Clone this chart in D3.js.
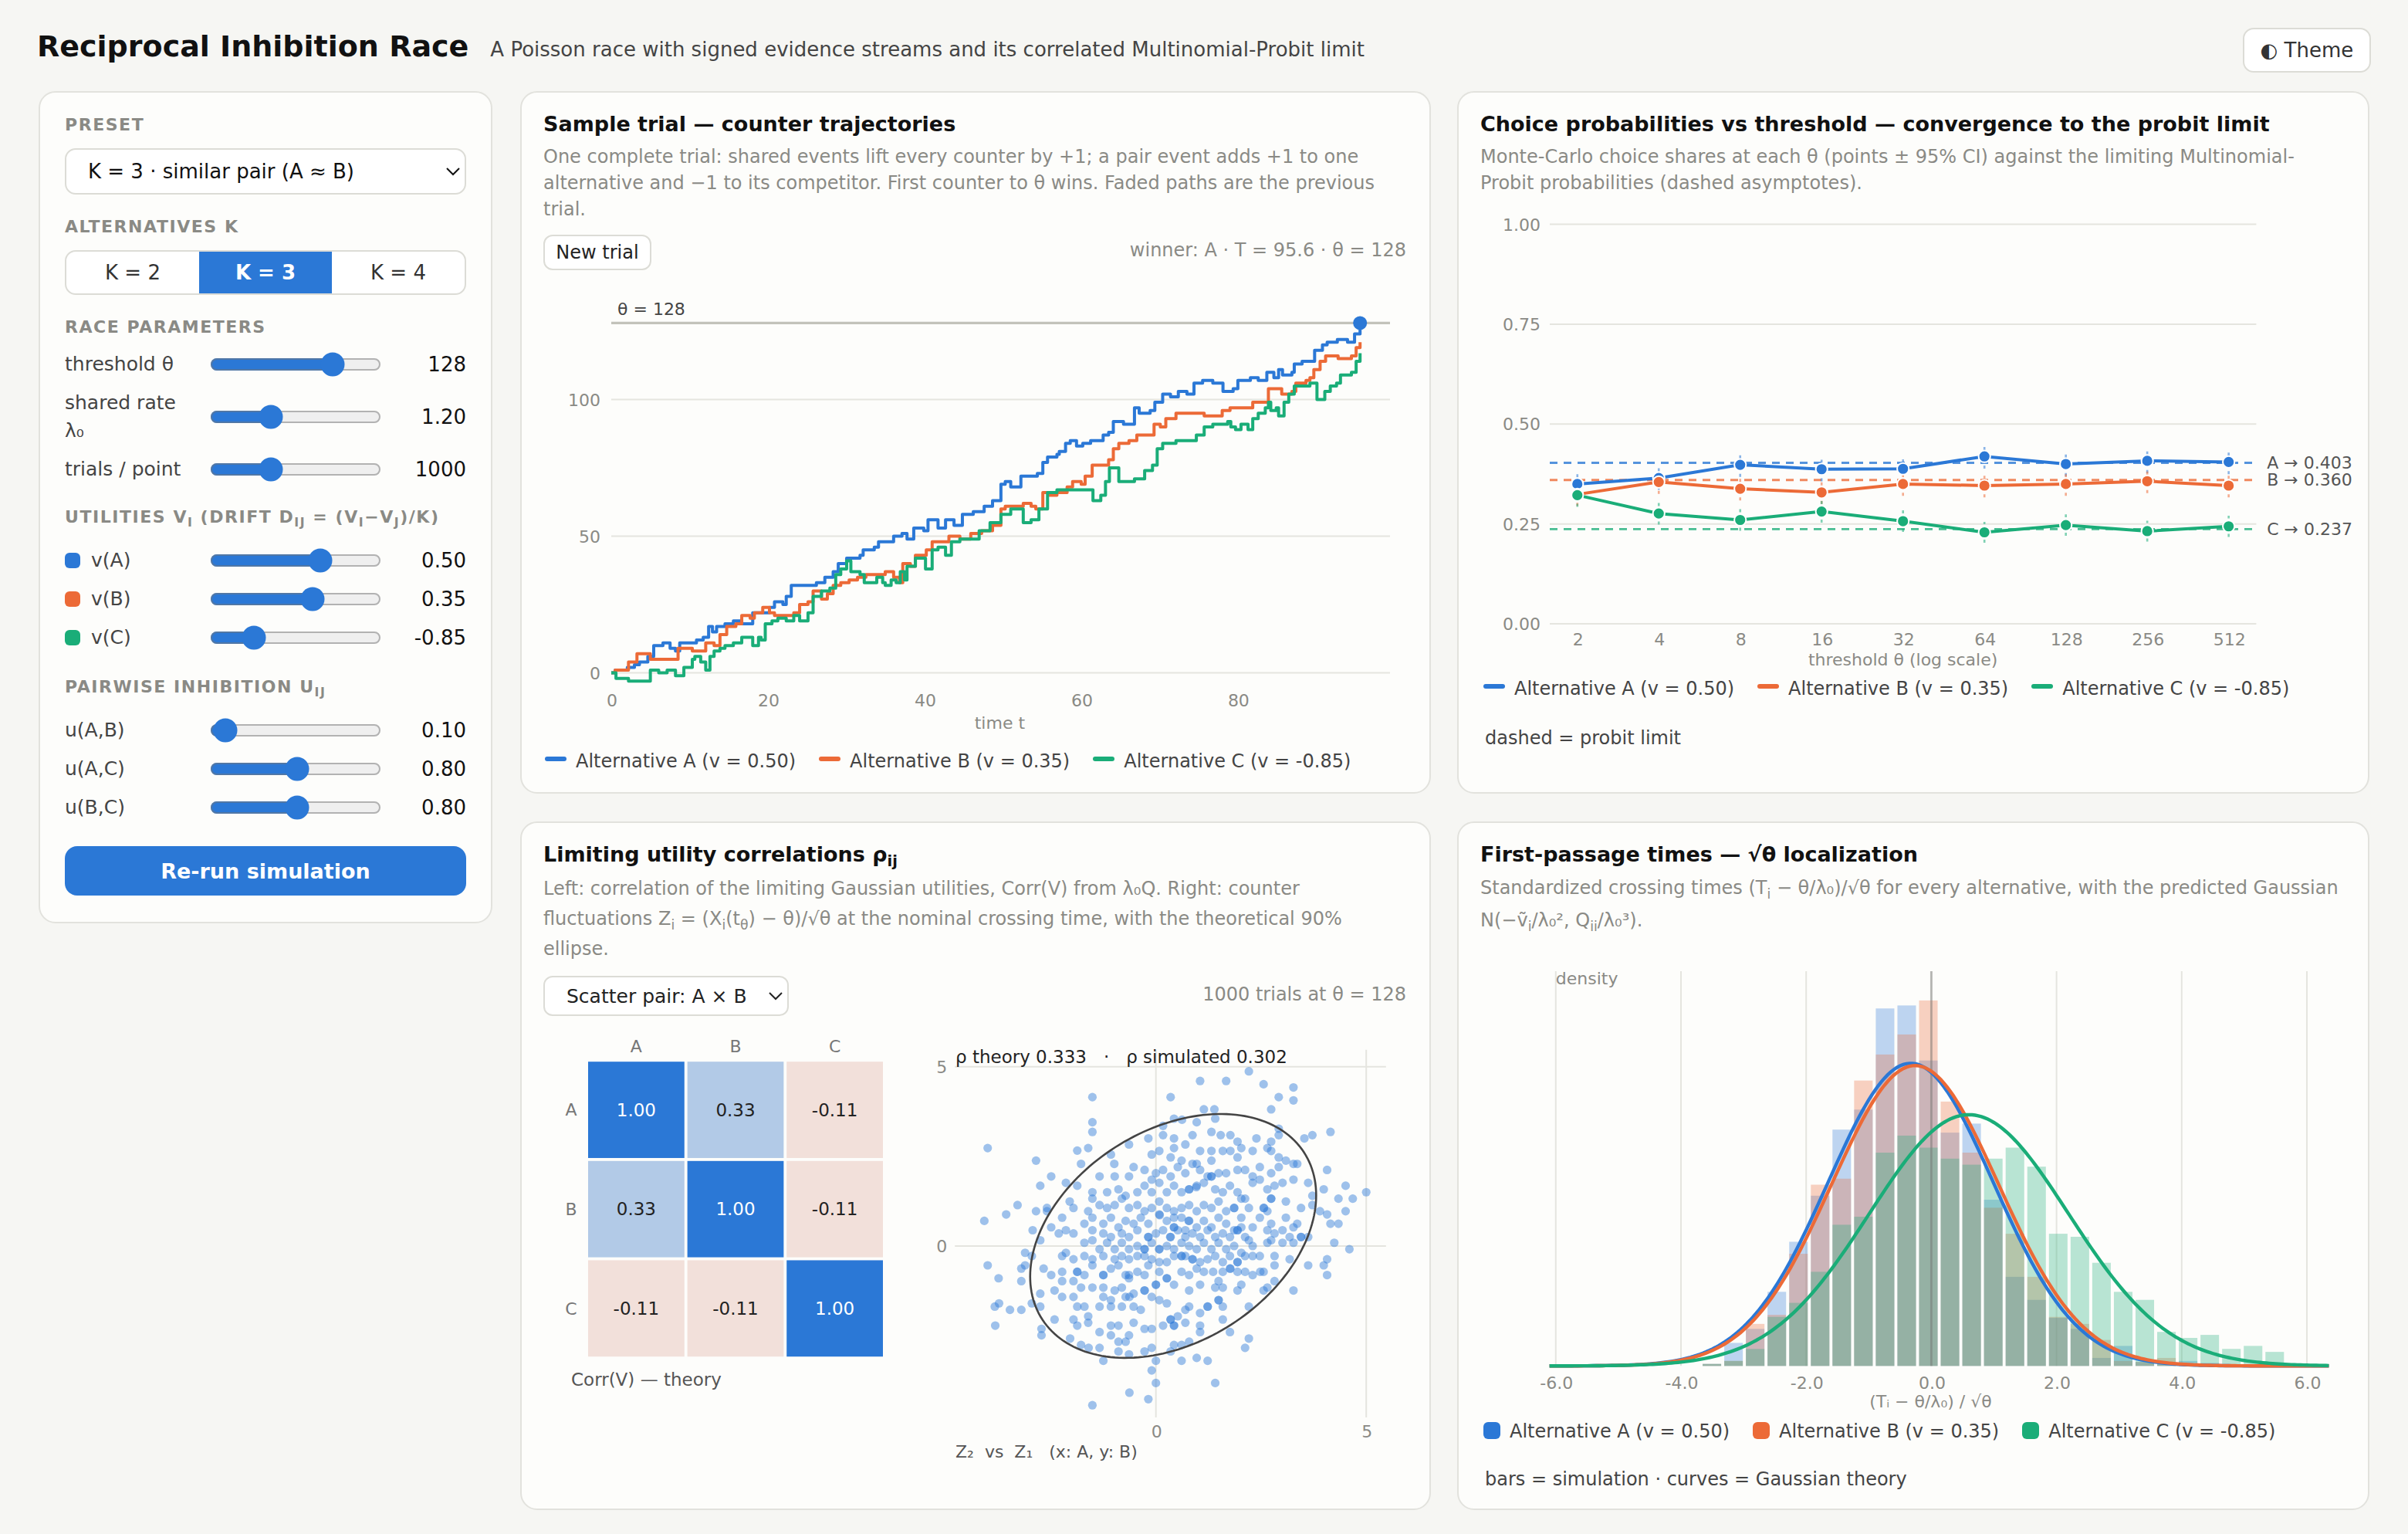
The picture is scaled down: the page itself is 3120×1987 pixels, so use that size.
<!DOCTYPE html>
<html lang="en">
<head>
<meta charset="utf-8">
<title>Reciprocal Inhibition Race</title>
<script src="https://cdn.jsdelivr.net/npm/d3@7"></script>
<style>
html, body { margin: 0; padding: 0; background: #f6f6f3; }
body { font-family: "DejaVu Sans", sans-serif; color: #222; }
#page { position: relative; width: 1560px; height: 993px; overflow: hidden; }
.hdr { position: absolute; left: 24px; top: 16px; white-space: nowrap; line-height: 28px; }
.hdr h1 { display: inline; font-size: 19px; margin: 0; color: #111; }
.hdr .sub { font-size: 13px; color: #444; margin-left: 14px; }
.theme { position: absolute; left: 1453px; top: 18px; width: 83px; height: 29px; box-sizing: border-box;
  border: 1px solid #dcdcd6; border-radius: 7px; background: #fff; font: 13px "DejaVu Sans"; color: #333; padding: 0; }
.panel { position: absolute; box-sizing: border-box; background: #fdfdfb; border: 1px solid #e2e2dd; border-radius: 11px; }
.ptitle { position: absolute; left: 14px; top: 11.5px; font-size: 13.5px; font-weight: bold; color: #111; line-height: 18px; white-space: nowrap; }
.pdesc { position: absolute; left: 14px; right: 14px; top: 33px; font-size: 12px; color: #8a8a85; line-height: 17px; }
sub { font-size: 72%; line-height: 0; }
svg.chart { position: absolute; left: 0; top: 0; overflow: visible; font-family: "DejaVu Sans", sans-serif; }
.legend { position: absolute; left: 15px; display: flex; gap: 15px; font-size: 12px; color: #444; line-height: 16px; white-space: nowrap; }
.legend .sw { display: inline-block; width: 14px; height: 3px; border-radius: 2px; margin-right: 6px; position: relative; top: -4px; }
.legend .sq { width: 11px; height: 11px; border-radius: 3px; top: 0; vertical-align: -1px; }
.note { position: absolute; left: 17px; font-size: 12px; color: #444; line-height: 16px; white-space: nowrap; }
.meta { position: absolute; right: 15px; font-size: 12px; color: #8a8a85; line-height: 16px; white-space: nowrap; }
.btn { position: absolute; box-sizing: border-box; border: 1px solid #dcdcd6; border-radius: 6px; background: #fff;
  font: 12px "DejaVu Sans"; color: #222; padding: 0; }
select.pick { position: absolute; box-sizing: border-box; border: 1px solid #dcdcd6; border-radius: 6px; background: #fff;
  font: 12.5px "DejaVu Sans"; color: #222; padding: 0 0 0 10px; }

#controls { padding: 14px 16px 0 16px; }
.sec { font-size: 11px; font-weight: bold; letter-spacing: .07em; text-transform: uppercase; color: #8a8a85; line-height: 14px; margin: 14px 0 8px; }
.sec:first-child { margin-top: 0; }
.csel { display: block; width: 100%; height: 30px; box-sizing: border-box; border: 1px solid #dcdcd6; border-radius: 7px;
  background: #fff; font: 13px "DejaVu Sans"; color: #111; padding: 0 6px 0 10px; }
.seg { display: flex; border: 1px solid #dcdcd6; border-radius: 7px; overflow: hidden; height: 29px; box-sizing: border-box; background: #fff; }
.seg button { flex: 1; border: 0; background: transparent; font: 13px "DejaVu Sans"; color: #333; padding: 0; }
.seg button.on { background: #2b78d6; color: #fff; font-weight: bold; }
.row { display: flex; align-items: center; line-height: 18px; font-size: 12.5px; color: #444; margin-bottom: 7px; }
.row .lbl { width: 83px; margin-right: 11px; flex: none; }
.row input[type=range] { width: 111px; margin: 0; accent-color: #2b78d6; height: 16px; flex: none; }
.row .val { flex: 1; text-align: right; color: #111; font-size: 13px; }
.row .dot { display: inline-block; width: 10px; height: 10px; border-radius: 3px; margin-right: 7px; vertical-align: -1px; }
.run { display: block; width: 100%; height: 32px; border: 0; border-radius: 8px; background: #2b78d6; color: #fff;
  font: bold 13.5px "DejaVu Sans"; margin-top: 16px; }
</style>
</head>
<body>
<div id="page">
  <div class="hdr"><h1>Reciprocal Inhibition Race</h1><span class="sub">A Poisson race with signed evidence streams and its correlated Multinomial-Probit limit</span></div>
  <button class="theme">◐ Theme</button>

  <div class="panel" id="controls" style="left:25px;top:59px;width:294px;height:539px;">
    <div class="sec">Preset</div>
    <select class="csel"><option>K = 3 · similar pair (A ≈ B)</option></select>
    <div class="sec">Alternatives K</div>
    <div class="seg" id="kseg"></div>
    <div class="sec">Race parameters</div>
    <div id="raceRows"></div>
    <div class="sec" style="margin-top:15px;margin-bottom:12px;">Utilities v<sub>i</sub> (drift d<sub>ij</sub> = (v<sub>i</sub>−v<sub>j</sub>)/K)</div>
    <div id="utilRows"></div>
    <div class="sec" style="margin-top:16px;margin-bottom:12px;">Pairwise inhibition u<sub>ij</sub></div>
    <div id="inhRows"></div>
    <button class="run">Re-run simulation</button>
  </div>

  <div class="panel" id="p2" style="left:337px;top:59px;width:590px;height:455px;">
    <div class="ptitle">Sample trial — counter trajectories</div>
    <div class="pdesc">One complete trial: shared events lift every counter by +1; a pair event adds +1 to one alternative and −1 to its competitor. First counter to θ wins. Faded paths are the previous trial.</div>
    <button class="btn" style="left:14px;top:92px;width:70px;height:23px;">New trial</button>
    <div class="meta" id="winner" style="top:94px;"></div>
    <svg class="chart" id="trialSvg" width="590" height="455"></svg>
    <div class="legend" id="trialLegend" style="top:425px;"></div>
  </div>

  <div class="panel" id="p3" style="left:944px;top:59px;width:591px;height:455px;">
    <div class="ptitle">Choice probabilities vs threshold — convergence to the probit limit</div>
    <div class="pdesc">Monte-Carlo choice shares at each θ (points ± 95% CI) against the limiting Multinomial-Probit probabilities (dashed asymptotes).</div>
    <svg class="chart" id="choiceSvg" width="591" height="455"></svg>
    <div class="legend" id="choiceLegend" style="top:378px;left:16px;"></div>
    <div class="note" style="top:410px;">dashed = probit limit</div>
  </div>

  <div class="panel" id="p4" style="left:337px;top:532px;width:590px;height:446px;">
    <div class="ptitle">Limiting utility correlations ρ<sub>ij</sub></div>
    <div class="pdesc" style="line-height:19.5px;top:33px;">Left: correlation of the limiting Gaussian utilities, Corr(V) from λ₀Q. Right: counter fluctuations Z<sub>i</sub> = (X<sub>i</sub>(t<sub>θ</sub>) − θ)/√θ at the nominal crossing time, with the theoretical 90% ellipse.</div>
    <select class="pick" style="left:14px;top:99px;width:159px;height:26px;"><option>Scatter pair: A × B</option></select>
    <div class="meta" id="corrMeta" style="top:103px;"></div>
    <svg class="chart" id="corrSvg" width="590" height="446"></svg>
  </div>

  <div class="panel" id="p5" style="left:944px;top:532px;width:591px;height:446px;">
    <div class="ptitle">First-passage times — √θ localization</div>
    <div class="pdesc" style="line-height:21px;top:31.5px;">Standardized crossing times (T<sub>i</sub> − θ/λ₀)/√θ for every alternative, with the predicted Gaussian N(−ṽ<sub>i</sub>/λ₀², Q<sub>ii</sub>/λ₀³).</div>
    <svg class="chart" id="fptSvg" width="591" height="446"></svg>
    <div class="legend" id="fptLegend" style="top:386px;left:16px;"></div>
    <div class="note" style="top:417px;">bars = simulation · curves = Gaussian theory</div>
  </div>
</div>

<script>
// ---- data ----
const alternatives = ["A", "B", "C"];
const altColors = ["#2b78d6", "#ec6a37", "#1aad78"];
const utilities = [0.50, 0.35, -0.85];
const pairLabels = ["u(A,B)", "u(A,C)", "u(B,C)"];
const pairInhibition = [0.10, 0.80, 0.80];
const kOptions = [2, 3, 4];
const kActive = 3;
const theta = 128;
const lambda0 = 1.20;
const trialsPerPoint = 1000;
const winnerTime = 95.6;

// sample trial: [time, counter]
const trialA = [[0,0],[0.5,1],[2.05,2],[2.96,3],[3.6,4],[4.67,6],[5.42,10],[6.6,11],[7.51,9],[8.2,8],[8.74,11],[10.88,12],[11.74,13],[12.43,17],[12.92,15],[13.45,17],[14.52,18],[15.59,19],[16.66,18],[18.06,22],[20.2,24],[20.84,26],[21.91,25],[22.34,28],[22.98,32],[26.19,33],[27.27,35],[28.33,37],[28.98,40],[30.05,42],[31.76,43],[32.16,45],[33.58,46],[34.12,48],[36.05,50],[37.12,51],[37.76,49],[38.62,53],[39.9,52],[40.44,56],[41.72,53],[42.68,56],[43.76,54],[44.83,58],[46.22,59],[47.61,61],[48.68,63],[49.75,69],[50.3,70],[51,68],[52.3,72],[54.4,73],[55.1,77],[55.7,79],[56.9,80],[57.2,81],[58,84],[58.6,85],[59.4,83],[60.2,84],[61.2,85],[62.8,87],[63.5,88],[64.1,92],[65.4,91],[66.8,97],[67.4,95],[68.8,96],[69.4,99],[70.4,102],[71.4,101],[72.4,103],[73.5,102],[74.4,106],[75.5,107],[76.8,106],[78.1,103],[79.4,104],[80,107],[81.6,108],[82.6,107],[83.7,110],[84.6,108],[85.2,111],[85.7,109],[86.9,110],[87.2,113],[88.2,114],[89.8,118],[90.8,120],[91.4,121],[92.7,122],[94,121],[94.9,124],[95.6,128]];
const trialB = [[0,0],[0.5,1],[2.2,4],[3.28,7],[4.99,5],[8.53,9],[10.35,8],[12.06,11],[13.13,10],[13.88,14],[14.74,17],[15.91,18],[16.66,21],[17.73,20],[18.27,22],[19.34,24],[20.2,22],[20.84,21],[23.3,22],[24.05,25],[25.12,26],[25.77,30],[26.84,27],[27.59,29],[28.33,32],[29.3,33],[30.37,34],[31.44,35],[32.51,36],[34.98,37],[36.05,35],[36.8,33],[37.22,40],[38.19,39],[38.83,43],[40.22,45],[40.97,48],[43.11,50],[44.51,49],[45.9,51],[47.29,52],[48.68,54],[49.75,60],[50.3,61],[52.6,62],[53.6,61],[54.2,60],[55.1,66],[55.9,65],[56.9,66],[58.2,68],[58.9,70],[60,69],[60.5,72],[61.4,76],[63.5,78],[64.1,82],[64.8,84],[66.1,85],[67.1,87],[69.3,91],[70.1,90],[70.8,93],[72.1,95],[75.7,94],[78,96],[79,97],[81.9,99],[83.9,104],[85.6,102],[86.9,103],[87.4,106],[88.7,107],[89.2,108],[89.7,111],[90.5,114],[91.2,116],[92.8,115],[94.5,116],[95.1,119],[95.6,121]];
const trialC = [[0,0],[0.6,-2],[2.2,-3],[4.99,1],[6.06,0],[7.13,1],[8.2,-1],[9.27,2],[10.35,5],[10.67,6],[11.42,4],[12.06,1],[12.6,6],[13.13,8],[13.88,9],[14.52,10],[15.59,11],[16.66,13],[18.06,10],[18.8,13],[19.13,12],[19.66,18],[20.52,19],[21.27,20],[22.34,19],[23.3,21],[24.05,19],[25.12,22],[25.77,28],[26.84,30],[27.91,31],[28.66,36],[29.3,38],[30.05,41],[30.59,37],[31.76,36],[32.3,33],[33.9,35],[34.65,33],[34.98,32],[35.73,34],[36.37,33],[36.9,37],[37.44,34],[37.76,39],[38.83,42],[40.12,38],[40.97,45],[41.72,46],[42.68,43],[43.43,48],[44.51,49],[46.97,52],[48.36,55],[49.75,58],[51,60],[52.6,55],[53.6,56],[54.6,60],[55.7,66],[56.9,67],[61.5,63],[62.5,65],[63.1,70],[63.6,75],[64.8,70],[66.8,71],[68.1,74],[69.1,76],[69.7,82],[70.4,84],[72.1,85],[74.7,87],[75.7,90],[76.8,91],[78.7,92],[79.1,90],[79.7,89],[80.4,91],[81.3,89],[81.9,93],[82.6,95],[83.5,97],[83.9,99],[84.2,96],[84.9,97],[85.2,94],[85.9,99],[86.5,102],[87.2,105],[89.2,106],[90.1,100],[91.1,103],[91.8,105],[92.6,106],[93.1,109],[94.5,110],[95.1,114],[95.6,117]];

// choice shares vs threshold
const thetaGrid = [2, 4, 8, 16, 32, 64, 128, 256, 512];
const shareA = [0.350, 0.365, 0.398, 0.387, 0.388, 0.419, 0.400, 0.408, 0.405];
const shareB = [0.324, 0.355, 0.338, 0.329, 0.350, 0.346, 0.350, 0.357, 0.346];
const shareC = [0.322, 0.276, 0.260, 0.281, 0.257, 0.229, 0.247, 0.232, 0.244];
const probitLimit = [0.403, 0.360, 0.237];

// correlations
const corrV = [[1.00, 0.33, -0.11], [0.33, 1.00, -0.11], [-0.11, -0.11, 1.00]];
const rhoTheory = 0.333;
const rhoSimulated = 0.302;
const ellipseCenter = [0.41, 0.28];
const ellipseVar = 2.51;
const scatterDomain = [-4.78, 5.47];
const scatterZ = [
[2.21,4.87],[1.05,4.6],[1.67,4.6],[2.56,4.51],[3.27,4.42],[-1.51,4.15],[0.35,4.15],[2.92,4.15],[3.27,4.06],[1.14,3.81],[1.39,3.81],[2.74,3.81],
[0.43,3.55],[1.41,3.55],[0.62,3.52],[-1.51,3.45],[0.97,3.45],[0.17,3.35],[-1.51,3.18],[2.92,3.27],[4.15,3.18],[3.72,3.09],[3.53,3.0],
[-4.0,2.73],[-1.87,2.66],[-1.61,2.73],[-0.64,2.83],[-2.85,2.38],[-1.78,2.29],[-2.49,1.94],[-2.75,1.68],[-2.14,1.76],[-1.87,1.68],
[4.07,2.12],[4.51,1.68],[5.0,1.5],[4.34,1.32],[4.68,1.32],[3.99,1.58],[3.9,0.97],[4.07,0.88],[4.51,0.97],[4.15,0.62],[4.34,0.62],
[4.24,0.09],[4.6,-0.09],[4.07,-0.37],[3.99,-0.54],[4.07,-0.81],[3.62,-0.54],[3.27,-1.24],[3.18,-0.37],[2.82,-0.98],[2.65,-1.16],[2.56,-1.24],
[2.21,-1.69],[2.03,-1.08],[1.94,-1.24],[2.21,-2.58],[2.12,-2.84],[1.76,-2.4],[1.59,-2.05],[1.41,-3.82],[1.23,-3.2],[0.97,-3.12],[0.61,-3.2],
[0.79,-2.67],[0.61,-2.76],[0.0,-3.2],[-0.1,-3.47],[0.0,-3.82],[-0.18,-4.27],[-0.63,-4.09],[-1.51,-4.44],[-1.25,-3.2],[-1.34,-2.84],
[-1.6,-2.84],[-1.78,-2.76],[-2.04,-2.58],[-2.72,-2.49],[-2.72,-2.31],[-3.82,-2.22],[-2.41,-2.05],[-3.83,-1.69],[-3.73,-1.6],[-3.47,-1.78],
[-3.2,-1.78],[-2.75,-1.69],[-2.95,-1.6],[-4.0,-0.54],[-3.74,-0.9],[-3.2,-0.98],[-3.2,-0.63],[-3.11,-0.19],[-2.95,-0.28],[-3.11,-0.54],
[-2.93,0.44],[-2.75,0.16],[-4.08,0.7],[-3.56,0.88],[-3.29,1.14],[-2.85,0.97],[-2.59,1.06],[-2.49,0.52],[-2.67,-0.63],[-2.49,-0.81],
[-2.41,-1.24],[-2.23,-1.42],[-2.75,-1.33],[-1.96,-1.42],[-1.87,-1.69],[-1.7,-1.69],[-1.96,-2.05],[-1.61,-1.96],[-1.87,-2.22],[-1.61,-2.14],
[-1.34,-2.4],[-1.07,-2.22],[-0.89,-2.22],[-1.07,-2.49],[-0.89,-2.67],[-0.72,-2.67],[-0.64,-2.49],[-0.89,-2.94],[-0.64,-3.02],[-0.27,-2.94],
[-0.1,-2.84],[0.35,-2.94],[0.43,-2.76],[-0.27,-2.31],[-0.1,-2.31],[0.17,-2.22],[0.35,-2.05],[0.43,-2.22],[0.7,-2.14],[1.05,-2.22],
[1.05,-2.4],[1.05,-1.87],[1.23,-1.69],[1.49,-1.51],[1.59,-1.69],[1.41,-1.16],[1.59,-1.16],[1.49,-0.98],[1.05,-1.08],[0.79,-1.24],
[0.79,-1.69],[0.7,-1.78],[0.52,-1.96],[0.26,-1.6],[0.08,-1.51],[-0.1,-1.42],[-0.27,-1.24],[-0.53,-2.14],[-0.36,-1.78],[-0.53,-1.69],
[-0.81,-1.69],[-1.07,-1.69],[-1.34,-1.69],[-1.25,-1.42],[-1.07,-1.51],[-0.98,-1.24],[-0.72,-1.42],[-0.53,-1.33],[-0.81,-1.16],[-1.25,-1.16],
[-1.51,-1.16],[-1.78,-1.16],[-1.96,-0.98],[-2.23,-0.98],[-2.23,-0.72],[-1.87,-0.72],[-1.7,-0.81],[-1.51,-0.54],[-1.25,-0.81],[-1.07,-0.63],
[-0.89,-0.54],[-0.72,-0.81],[-0.64,-0.9],[-0.44,-0.72],[-0.27,-0.81],[-0.18,-0.54],[0.0,-1.08],[0.08,-0.72],[0.26,-0.9],[0.43,-1.08],
[0.61,-0.72],[0.79,-0.81],[0.97,-0.63],[1.14,-0.72],[1.36,-0.72],[1.59,-0.72],[1.76,-0.63],[1.94,-0.72],[2.12,-0.72],[2.3,-0.81],
[2.48,-0.72],[2.56,-0.72],[2.82,-0.54],[2.82,-0.28],[2.47,-0.28],[2.3,-0.28],[2.12,-0.28],[1.94,-0.45],[1.76,-0.28],[1.59,-0.45],
[1.41,-0.28],[1.23,-0.37],[1.05,-0.45],[0.87,-0.37],[0.7,-0.28],[0.61,-0.28],[0.43,-0.28],[0.26,-0.45],[0.08,-0.45],[-0.1,-0.37],
[-0.27,-0.28],[-0.44,-0.28],[-0.64,-0.37],[-0.81,-0.28],[-0.98,-0.37],[-1.25,-0.28],[-1.51,-0.37],[-1.7,-0.28],[-1.96,-0.37],[-2.23,-0.28],
[-2.14,-0.19],[-1.7,0.09],[-1.51,0.16],[-1.34,-0.09],[-1.16,0.09],[-0.98,-0.09],[-0.81,0.09],[-0.64,-0.09],[-0.44,0.0],[-0.27,-0.09],
[-0.1,0.09],[0.08,-0.09],[0.26,0.0],[0.43,-0.09],[0.61,0.09],[0.79,0.0],[0.97,-0.09],[1.14,0.09],[1.32,-0.09],[1.49,0.09],
[1.67,-0.09],[1.86,0.0],[2.03,-0.19],[2.21,0.16],[2.3,0.0],[2.65,0.09],[2.74,0.16],[3.01,0.09],[3.27,0.09],[3.45,0.25],[3.62,0.25],
[-1.96,0.35],[-2.31,0.35],[-2.14,0.44],[-1.51,0.44],[-1.25,0.35],[-1.07,0.25],[-0.81,0.35],[-0.64,0.25],[-0.44,0.44],[-0.18,0.25],
[0.0,0.35],[0.17,0.44],[0.35,0.25],[0.52,0.44],[0.7,0.25],[0.87,0.35],[1.05,0.25],[1.23,0.44],[1.41,0.25],[1.59,0.35],[1.76,0.25],
[1.94,0.44],[2.12,0.25],[2.65,0.44],[2.82,0.35],[3.01,0.44],[3.18,0.25],[3.27,0.52],[3.36,0.62],
[-2.23,0.79],[-1.7,0.62],[-1.51,0.79],[-1.25,0.62],[-1.07,0.79],[-0.89,0.52],[-0.72,0.7],[-0.53,0.62],[-0.36,0.79],[-0.18,0.62],
[0.08,0.88],[0.26,0.7],[0.43,0.52],[0.61,0.79],[0.79,0.7],[0.97,0.52],[1.14,0.7],[1.32,0.52],[1.49,0.79],[1.67,0.62],[1.86,0.44],
[2.03,0.52],[2.03,0.79],[2.3,0.52],[2.47,0.79],[2.74,0.62],[3.09,0.79],
[-2.59,0.97],[-2.05,1.24],[-1.96,1.06],[-1.61,0.97],[-1.34,1.14],[-1.16,1.06],[-0.98,1.14],[-0.81,1.32],[-0.64,1.06],[-0.44,1.14],
[-0.27,0.97],[-0.1,1.06],[0.08,1.24],[0.26,1.06],[0.43,0.97],[0.61,1.06],[0.79,1.14],[0.97,0.97],[1.14,1.14],[1.32,1.06],[1.49,1.24],
[1.67,0.97],[1.86,1.06],[2.03,1.32],[2.21,1.06],[2.56,1.06],[2.65,0.97],[2.74,1.32],[3.09,1.24],[3.45,1.06],[3.72,1.14],[3.72,1.4],
[-1.51,1.5],[-1.51,1.32],[-1.16,1.5],[-0.89,1.58],[-0.72,1.4],[-0.44,1.5],[-0.27,1.68],[-0.1,1.5],[0.08,1.76],[0.26,1.5],[0.43,1.68],
[0.61,1.5],[0.79,1.58],[0.97,1.68],[1.14,1.76],[1.32,1.94],[1.41,1.58],[1.59,1.5],[1.76,1.68],[1.94,1.5],[2.12,1.32],[2.3,1.76],
[2.47,1.85],[2.65,1.58],[2.82,1.68],[3.01,1.76],[3.27,1.85],[3.62,1.76],
[-1.34,1.94],[-0.98,1.94],[-0.64,1.94],[-0.53,2.2],[-0.27,2.12],[-0.1,1.85],[0.0,2.03],[0.17,2.12],[0.35,1.94],[0.52,2.2],[0.7,2.03],
[0.87,2.29],[1.05,2.12],[1.23,1.94],[1.49,2.03],[1.67,2.03],[1.94,2.12],[2.12,2.12],[2.3,1.94],[2.47,2.2],[2.74,2.03],[2.92,2.2],
[3.09,2.38],[3.27,2.29],[3.36,2.29],
[-1.07,2.55],[-0.99,2.29],[-0.1,2.55],[0.08,2.65],[0.35,2.47],[0.43,2.73],[0.61,2.38],[0.7,2.83],[0.97,2.29],[1.05,2.65],[1.32,2.65],
[1.32,2.38],[1.59,2.65],[1.77,2.65],[1.94,2.47],[2.03,2.73],[2.3,2.65],[2.65,2.73],[2.92,2.47],[2.74,2.65],
[-0.18,3.0],[0.17,3.09],[0.43,3.0],[0.87,3.09],[1.32,3.18],[1.54,3.09],[1.77,3.09],[1.94,2.91],[2.39,3.0],[2.74,2.91],[2.92,3.09],
[1.32,1.94],[0.96,1.64],[0.79,1.58],[0.09,0.86],[0.43,0.79],[0.78,0.7],[0.43,0.52],[0.7,0.44],[-0.18,0.25],[0.34,0.25],[-0.27,-0.09],
[0.08,-0.09],[0.61,-0.28],[0.87,-0.37],[0.0,-1.08],[-0.27,-1.24],[0.26,-0.9],[-0.64,-0.81],[-1.25,-0.81],[-1.87,-0.72],[1.86,1.06],
[2.57,1.06],[2.74,1.32],[1.94,0.44],[1.94,-0.45],[1.77,-0.63],[3.45,0.25],[1.49,-1.51],[1.23,-1.69],[-0.63,-1.42],[0.43,-2.22],[0.35,-2.05]
];

// first-passage histogram (density per bin) and Gaussian theory
const histRange = [-6.1, 6.35];
const histBins = 36;
const histA = [0,0,0,0,0,0,0,0.002,0.023,0.037,0.074,0.124,0.170,0.236,0.256,0.357,0.360,0.305,0.233,0.242,0.166,0.089,0.066,0.048,0.037,0.008,0.020,0.004,0.002,0.005,0.003,0,0,0,0,0];
const histB = [0,0,0,0,0,0,0,0.002,0.005,0.042,0.051,0.112,0.181,0.187,0.285,0.311,0.331,0.365,0.264,0.213,0.158,0.132,0.089,0.049,0.042,0.026,0.005,0.004,0.008,0.001,0,0,0,0,0,0];
const histC = [0,0,0,0,0,0,0,0.002,0.005,0.017,0.049,0.063,0.094,0.141,0.149,0.213,0.230,0.218,0.207,0.201,0.207,0.218,0.199,0.132,0.129,0.103,0.074,0.066,0.034,0.028,0.031,0.017,0.020,0.014,0,0.002];
const fptMean = [-0.33, -0.26, 0.60];
const fptSd = [1.32, 1.33, 1.59];

// ---- page scale ----
document.documentElement.style.zoom = window.innerWidth / 1560;

const fmt2 = v => v.toFixed(2);
const grid = "#e5e5df";
const tickCol = "#8a8a85";

// ---- controls ----
d3.select("#kseg").selectAll("button").data(kOptions).join("button")
  .classed("on", d => d === kActive).text(d => `K = ${d}`);

function addRow(container, label, min, max, step, value, shown, color) {
  const row = d3.select(container).append("div").attr("class", "row");
  const lbl = row.append("div").attr("class", "lbl");
  if (color) lbl.append("span").attr("class", "dot").style("background", color);
  lbl.append("span").html(label);
  row.append("input").attr("type", "range").attr("min", min).attr("max", max).attr("step", step).property("value", value);
  row.append("div").attr("class", "val").text(shown);
}
addRow("#raceRows", "threshold θ", 1, 9, 1, Math.log2(theta), String(theta));
addRow("#raceRows", "shared rate λ₀", 0.2, 3.2, 0.05, lambda0, fmt2(lambda0));
addRow("#raceRows", "trials / point", 100, 2800, 100, trialsPerPoint, String(trialsPerPoint));
alternatives.forEach((a, i) => addRow("#utilRows", `v(${a})`, -1.5, 1.5, 0.05, utilities[i], fmt2(utilities[i]), altColors[i]));
pairLabels.forEach((p, i) => addRow("#inhRows", p, 0.07, 1.5, 0.01, pairInhibition[i], fmt2(pairInhibition[i])));

function legend(sel, square) {
  const items = d3.select(sel).selectAll("div").data(alternatives).join("div");
  items.append("span").attr("class", square ? "sw sq" : "sw").style("background", (d, i) => altColors[i]);
  items.append("span").text((d, i) => `Alternative ${d} (v = ${fmt2(utilities[i])})`);
}
legend("#trialLegend", false);
legend("#choiceLegend", false);
legend("#fptLegend", true);

function styleAxis(g) {
  g.select(".domain").remove();
  g.selectAll("text").attr("fill", tickCol).style("font-size", "11px").style("font-family", "DejaVu Sans");
}

// ---- sample trial ----
(function () {
  const svg = d3.select("#trialSvg");
  const x = d3.scaleLinear().domain([0, winnerTime * 1.04]).range([58, 562.5]);
  const y = d3.scaleLinear().domain([0, theta * 1.08]).range([375.8, 131.1]);
  d3.select("#winner").text(`winner: A · T = ${winnerTime.toFixed(1)} · θ = ${theta}`);

  svg.append("g").selectAll("line").data(y.ticks(3)).join("line")
    .attr("x1", x.range()[0]).attr("x2", x.range()[1])
    .attr("y1", d => y(d)).attr("y2", d => y(d)).attr("stroke", grid);
  svg.append("line").attr("x1", x.range()[0]).attr("x2", x.range()[1])
    .attr("y1", y(theta)).attr("y2", y(theta)).attr("stroke", "#c2c2ba").attr("stroke-width", 1.6);
  svg.append("text").attr("x", 62).attr("y", y(theta) - 5).attr("fill", "#444").style("font-size", "11px").text(`θ = ${theta}`);

  svg.append("g").attr("transform", `translate(${x.range()[0]},0)`)
    .call(d3.axisLeft(y).ticks(3).tickSize(0).tickPadding(7)).call(styleAxis);
  svg.append("g").attr("transform", `translate(0,${y.range()[0]})`)
    .call(d3.axisBottom(x).ticks(5).tickSize(0).tickPadding(14)).call(styleAxis);
  svg.append("text").attr("x", 309.7).attr("y", 412).attr("text-anchor", "middle")
    .attr("fill", tickCol).style("font-size", "11px").text("time t");

  const line = d3.line().x(d => x(d[0])).y(d => y(d[1])).curve(d3.curveStepAfter);
  [trialA, trialB, trialC].forEach((s, i) => {
    svg.append("path").attr("d", line(s)).attr("fill", "none")
      .attr("stroke", altColors[i]).attr("stroke-width", 2).attr("stroke-linejoin", "round");
  });
  svg.append("circle").attr("cx", x(winnerTime)).attr("cy", y(theta)).attr("r", 4.5).attr("fill", altColors[0]);
})();

// ---- choice probabilities ----
(function () {
  const svg = d3.select("#choiceSvg");
  const x = d3.scalePoint().domain(thetaGrid).range([59, 516.7]).padding(0.339);
  const y = d3.scaleLinear().domain([0, 1]).range([344, 85.3]);
  svg.append("g").selectAll("line").data([0, 0.25, 0.5, 0.75, 1]).join("line")
    .attr("x1", 59).attr("x2", 516.7).attr("y1", d => y(d)).attr("y2", d => y(d)).attr("stroke", grid);
  svg.append("g").attr("transform", "translate(59,0)")
    .call(d3.axisLeft(y).tickValues([0, 0.25, 0.5, 0.75, 1]).tickFormat(fmt2).tickSize(0).tickPadding(6)).call(styleAxis);
  svg.append("g").attr("transform", `translate(0,${y(0)})`)
    .call(d3.axisBottom(x).tickSize(0).tickPadding(6)).call(styleAxis);
  svg.append("text").attr("x", 287.8).attr("y", 371).attr("text-anchor", "middle")
    .attr("fill", tickCol).style("font-size", "11px").text("threshold θ (log scale)");

  const shares = [shareA, shareB, shareC];
  probitLimit.forEach((p, i) => {
    svg.append("line").attr("x1", 59).attr("x2", 516.7).attr("y1", y(p)).attr("y2", y(p))
      .attr("stroke", altColors[i]).attr("stroke-opacity", 0.8).attr("stroke-width", 1.4).attr("stroke-dasharray", "5,4");
    svg.append("text").attr("x", 523.6).attr("y", y(p)).attr("dy", "0.35em").attr("fill", "#555")
      .style("font-size", "11px").text(`${alternatives[i]} → ${p.toFixed(3)}`);
  });
  shares.forEach((s, i) => {
    const ci = s.map(p => 1.96 * Math.sqrt(p * (1 - p) / trialsPerPoint));
    svg.append("g").selectAll("line").data(s).join("line")
      .attr("x1", (d, j) => x(thetaGrid[j])).attr("x2", (d, j) => x(thetaGrid[j]))
      .attr("y1", (d, j) => y(d - ci[j])).attr("y2", (d, j) => y(d + ci[j]))
      .attr("stroke", altColors[i]).attr("stroke-opacity", 0.55).attr("stroke-width", 1.3).attr("stroke-dasharray", "2,2");
  });
  shares.forEach((s, i) => {
    const line = d3.line().x((d, j) => x(thetaGrid[j])).y(d => y(d));
    svg.append("path").attr("d", line(s)).attr("fill", "none").attr("stroke", altColors[i]).attr("stroke-width", 2);
    svg.append("g").selectAll("circle").data(s).join("circle")
      .attr("cx", (d, j) => x(thetaGrid[j])).attr("cy", d => y(d)).attr("r", 3.8)
      .attr("fill", altColors[i]).attr("stroke", "#fff").attr("stroke-width", 1);
  });
})();

// ---- correlations ----
(function () {
  const svg = d3.select("#corrSvg");
  d3.select("#corrMeta").text(`${trialsPerPoint} trials at θ = ${theta}`);
  const bx = d3.scaleBand().domain(alternatives).range([43, 234]).paddingInner(0.03);
  const by = d3.scaleBand().domain(alternatives).range([154.6, 345.6]).paddingInner(0.03);
  const pos = d3.interpolateRgb("#f5f3f0", "#2b78d6");
  const neg = d3.interpolateRgb("#f5f3f0", "#d6452b");
  const cells = [];
  corrV.forEach((r, i) => r.forEach((v, j) => cells.push({ i, j, v })));
  const cg = svg.append("g").selectAll("g").data(cells).join("g");
  cg.append("rect").attr("x", d => bx(alternatives[d.j])).attr("y", d => by(alternatives[d.i]))
    .attr("width", bx.bandwidth()).attr("height", by.bandwidth())
    .attr("fill", d => d.v >= 0 ? pos(d.v) : neg(-d.v));
  cg.append("text").attr("x", d => bx(alternatives[d.j]) + bx.bandwidth() / 2)
    .attr("y", d => by(alternatives[d.i]) + by.bandwidth() / 2).attr("dy", "0.35em").attr("text-anchor", "middle")
    .attr("fill", d => Math.abs(d.v) > 0.6 ? "#fff" : "#222").style("font-size", "11.5px").text(d => fmt2(d.v));
  svg.append("g").selectAll("text").data(alternatives).join("text")
    .attr("x", d => bx(d) + bx.bandwidth() / 2).attr("y", 144.6).attr("dy", "0.35em").attr("text-anchor", "middle")
    .attr("fill", "#777").style("font-size", "11px").text(d => d);
  svg.append("g").selectAll("text").data(alternatives).join("text")
    .attr("x", 32).attr("y", d => by(d) + by.bandwidth() / 2).attr("dy", "0.35em").attr("text-anchor", "middle")
    .attr("fill", "#777").style("font-size", "11px").text(d => d);
  svg.append("text").attr("x", 32).attr("y", 360.5).attr("dy", "0.35em").attr("fill", "#555")
    .style("font-size", "11.5px").text("Corr(V) — theory");

  const x = d3.scaleLinear().domain(scatterDomain).range([280.6, 559.9]);
  const y = d3.scaleLinear().domain(scatterDomain).range([385, 146.9]);
  const ticks = x.ticks(2);
  svg.append("g").selectAll("line").data(ticks).join("line")
    .attr("x1", d => x(d)).attr("x2", d => x(d)).attr("y1", y.range()[1]).attr("y2", y.range()[0]).attr("stroke", grid);
  svg.append("g").selectAll("line").data(ticks).join("line")
    .attr("y1", d => y(d)).attr("y2", d => y(d)).attr("x1", x.range()[0]).attr("x2", x.range()[1]).attr("stroke", grid);
  svg.append("g").attr("transform", `translate(${x.range()[0]},0)`)
    .call(d3.axisLeft(y).ticks(2).tickSize(0).tickPadding(5)).call(styleAxis);
  svg.append("g").attr("transform", `translate(0,${y.range()[0]})`)
    .call(d3.axisBottom(x).ticks(2).tickSize(0).tickPadding(5)).call(styleAxis);

  svg.append("g").selectAll("circle").data(scatterZ).join("circle")
    .attr("cx", d => x(d[0])).attr("cy", d => y(d[1])).attr("r", 2.8)
    .attr("fill", altColors[0]).attr("fill-opacity", 0.45);

  // 90% ellipse from the theoretical covariance
  const r = Math.sqrt(-2 * Math.log(0.1));
  const s = Math.sqrt(ellipseVar);
  const ell = d3.range(0, 2 * Math.PI + 0.01, Math.PI / 90).map(a => [
    ellipseCenter[0] + r * s * Math.cos(a),
    ellipseCenter[1] + r * s * (rhoTheory * Math.cos(a) + Math.sqrt(1 - rhoTheory * rhoTheory) * Math.sin(a))
  ]);
  svg.append("path").attr("d", d3.line().x(d => x(d[0])).y(d => y(d[1]))(ell))
    .attr("fill", "none").attr("stroke", "#444").attr("stroke-width", 1.3);

  svg.append("text").attr("x", 281).attr("y", 151.6).attr("dy", "0.35em").attr("fill", "#222")
    .style("font-size", "11.5px").style("white-space", "pre")
    .text(`ρ theory ${rhoTheory.toFixed(3)}   ·   ρ simulated ${rhoSimulated.toFixed(3)}`);
  svg.append("text").attr("x", 281).attr("y", 407).attr("dy", "0.35em").attr("fill", "#555")
    .style("font-size", "11px").style("white-space", "pre").text("Z₂  vs  Z₁   (x: A, y: B)");
})();

// ---- first-passage times ----
(function () {
  const svg = d3.select("#fptSvg");
  const x = d3.scaleLinear().domain(histRange).range([58.85, 563.7]);
  const hists = [histA, histB, histC];
  const y = d3.scaleLinear().domain([0, d3.max(hists.flat()) * 1.08]).range([351.65, 96]);
  const w = (histRange[1] - histRange[0]) / histBins;
  const edges = d3.range(histBins + 1).map(k => histRange[0] + k * w);
  const ticks = d3.range(-6, 6.01, 2);

  svg.append("g").selectAll("line").data(ticks).join("line")
    .attr("x1", d => x(d)).attr("x2", d => x(d)).attr("y1", y.range()[1]).attr("y2", y.range()[0]).attr("stroke", grid);
  svg.append("text").attr("x", x(-6)).attr("y", 100.8).attr("dy", "0.35em").attr("fill", tickCol)
    .style("font-size", "11px").text("density");

  hists.forEach((h, i) => {
    svg.append("g").selectAll("rect").data(h.map((d, k) => ({ d, k })).filter(b => b.d > 0)).join("rect")
      .attr("x", b => x(edges[b.k]) + 1).attr("width", b => x(edges[b.k + 1]) - x(edges[b.k]) - 2)
      .attr("y", b => y(b.d)).attr("height", b => y(0) - y(b.d))
      .attr("fill", altColors[i]).attr("fill-opacity", 0.3);
  });
  svg.append("line").attr("x1", x(0)).attr("x2", x(0)).attr("y1", y.range()[1]).attr("y2", y(0))
    .attr("stroke", "#777").attr("stroke-opacity", 0.45).attr("stroke-width", 1.5);

  const xs = d3.range(histRange[0], histRange[1] + 0.001, 0.05);
  fptMean.forEach((m, i) => {
    const sd = fptSd[i];
    const pdf = t => Math.exp(-0.5 * ((t - m) / sd) ** 2) / (sd * Math.sqrt(2 * Math.PI));
    svg.append("path").attr("d", d3.line().x(t => x(t)).y(t => y(pdf(t)))(xs))
      .attr("fill", "none").attr("stroke", altColors[i]).attr("stroke-width", 2.2);
  });

  svg.append("g").attr("transform", `translate(0,${y(0)})`)
    .call(d3.axisBottom(x).tickValues(ticks).tickFormat(d => d.toFixed(1)).tickSize(0).tickPadding(7)).call(styleAxis);
  svg.append("text").attr("x", 305.7).attr("y", 374.5).attr("dy", "0.35em").attr("text-anchor", "middle")
    .attr("fill", tickCol).style("font-size", "11px").text("(Tᵢ − θ/λ₀) / √θ");
})();
</script>
</body>
</html>
